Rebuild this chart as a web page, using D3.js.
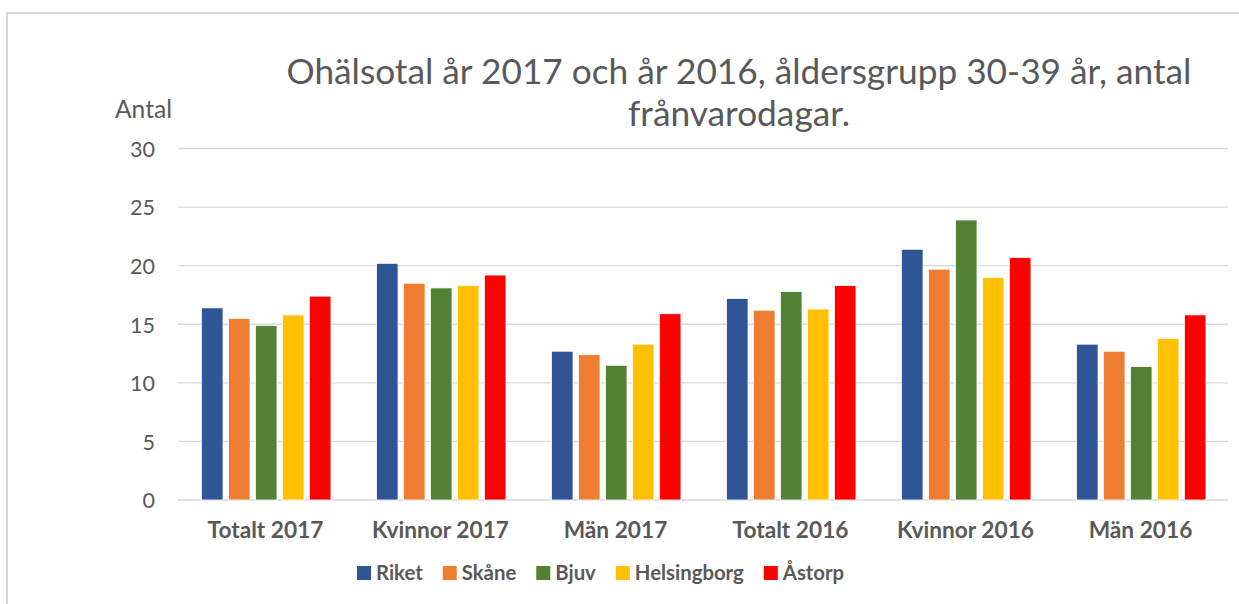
<html>
    <head>
        <title>Ohälsotal</title>
        <style>
            body { margin: 0; background: #fff; }
            text { font-family: Lato, "Open Sans", sans-serif; fill: #595959; }
        </style>
    </head>
    <body>
    <script src="https://d3js.org/d3.v7.min.js"></script>
        <script>
            var categories = ["Totalt 2017", "Kvinnor 2017", "Män 2017", "Totalt 2016", "Kvinnor 2016", "Män 2016"];
            var seriesNames = ["Riket", "Skåne", "Bjuv", "Helsingborg", "Åstorp"];
            var colors = ["#2f5597", "#ed7d31", "#548235", "#ffc000", "#ff0000"];
            var riket = [16.4, 20.2, 12.7, 17.2, 21.4, 13.3];
            var skane = [15.5, 18.5, 12.4, 16.2, 19.7, 12.7];
            var bjuv = [14.9, 18.1, 11.5, 17.8, 23.9, 11.4];
            var helsingborg = [15.8, 18.3, 13.3, 16.3, 19.0, 13.8];
            var astorp = [17.4, 19.2, 15.9, 18.3, 20.7, 15.8];
            var yTicks = [0, 5, 10, 15, 20, 25, 30];
            var values = [riket, skane, bjuv, helsingborg, astorp];

            var w = 1239;
            var h = 604;
            var svg = d3.select('body')
                        .append('svg')
                        .attr('width', w)
                        .attr('height', h);

            // scale a text's font size so its width matches the reference
            function fitSize(txt, base, target, bold) {
                var probe = svg.append('text').style('font-size', base + 'px').text(txt);
                if (bold) probe.style('font-weight', 'bold');
                var s = base * target / probe.node().getComputedTextLength();
                probe.remove();
                return s;
            }

            // chart border
            svg.append('rect')
                .attr('x', 7).attr('y', 13)
                .attr('width', 1250).attr('height', 620)
                .attr('fill', 'none')
                .attr('stroke', '#d9d9d9')
                .attr('stroke-width', 2);

            var pLeft = 178, pRight = 1228, pTop = 148.5, pBottom = 500;
            var groupW = 129.5;

            var x = d3.scaleBand().domain(categories).range([pLeft, pRight]).paddingInner(0).paddingOuter(0);
            var xs = d3.scaleBand().domain(seriesNames).range([0, groupW]).paddingInner(0.2).paddingOuter(0);
            var y = d3.scaleLinear().domain([0, 30]).range([pBottom, pTop]);

            // gridlines
            svg.append('g')
                .selectAll('line')
                .data(yTicks)
                .enter()
                .append('line')
                .attr('x1', pLeft).attr('x2', pRight)
                .attr('y1', d => y(d)).attr('y2', d => y(d))
                .attr('stroke', '#d9d9d9')
                .attr('stroke-width', 1.3);

            var tickSize = fitSize('30', 20, 25);
            var yAxis = svg.append('g')
                .attr('transform', 'translate(155,0)')
                .call(d3.axisLeft(y).tickValues(yTicks).tickSize(0).tickPadding(0));
            yAxis.select('.domain').remove();
            yAxis.selectAll('text')
                .style('font-size', tickSize + 'px')
                .style('font-family', 'Lato, sans-serif')
                .attr('fill', null)
                .attr('dy', '0.36em');

            var catSize = fitSize('Totalt 2017', 19, 116, true);
            var xAxis = svg.append('g')
                .attr('transform', 'translate(0,' + pBottom + ')')
                .call(d3.axisBottom(x).tickSize(0).tickPadding(22));
            xAxis.select('.domain').remove();
            xAxis.selectAll('text')
                .style('font-size', catSize + 'px')
                .style('font-family', 'Lato, sans-serif')
                .style('font-weight', 'bold')
                .attr('fill', null);

            // bars
            var groups = svg.selectAll('.grp')
                .data(categories)
                .enter()
                .append('g')
                .attr('class', 'grp')
                .attr('transform', d => 'translate(' + (x(d) + (x.bandwidth() - groupW) / 2 + 0.7) + ',0)');

            groups.selectAll('rect')
                .data((d, i) => seriesNames.map((s, j) => ({ s: s, v: values[j][i], c: colors[j] })))
                .enter()
                .append('rect')
                .attr('x', d => xs(d.s))
                .attr('y', d => y(d.v))
                .attr('width', xs.bandwidth())
                .attr('height', d => pBottom - y(d.v))
                .attr('fill', d => d.c)
                .attr('stroke', '#fff')
                .attr('stroke-width', 0.8);

            // title
            var line1 = 'Ohälsotal år 2017 och år 2016, åldersgrupp 30-39 år, antal';
            var fs = fitSize(line1, 30, 905);
            svg.append('text')
                .attr('x', 739).attr('y', 84)
                .attr('text-anchor', 'middle')
                .style('font-size', fs + 'px')
                .text(line1);
            svg.append('text')
                .attr('x', 739).attr('y', 126)
                .attr('text-anchor', 'middle')
                .style('font-size', fs + 'px')
                .text('frånvarodagar.');

            svg.append('text')
                .attr('x', 115).attr('y', 118)
                .style('font-size', fitSize('Antal', 20, 57) + 'px')
                .text('Antal');

            // legend
            var legSize = fitSize('Helsingborg', 19, 109, true);
            var lx = 357;
            seriesNames.forEach(function(s, i) {
                svg.append('rect')
                    .attr('x', lx).attr('y', 566)
                    .attr('width', 14).attr('height', 14)
                    .attr('fill', colors[i]);
                var t = svg.append('text')
                    .attr('x', lx + 19).attr('y', 580)
                    .style('font-size', legSize + 'px')
                    .style('font-weight', 'bold')
                    .text(s);
                lx += 19 + t.node().getComputedTextLength() + 20;
            });
        </script>
    </body>
</html>
